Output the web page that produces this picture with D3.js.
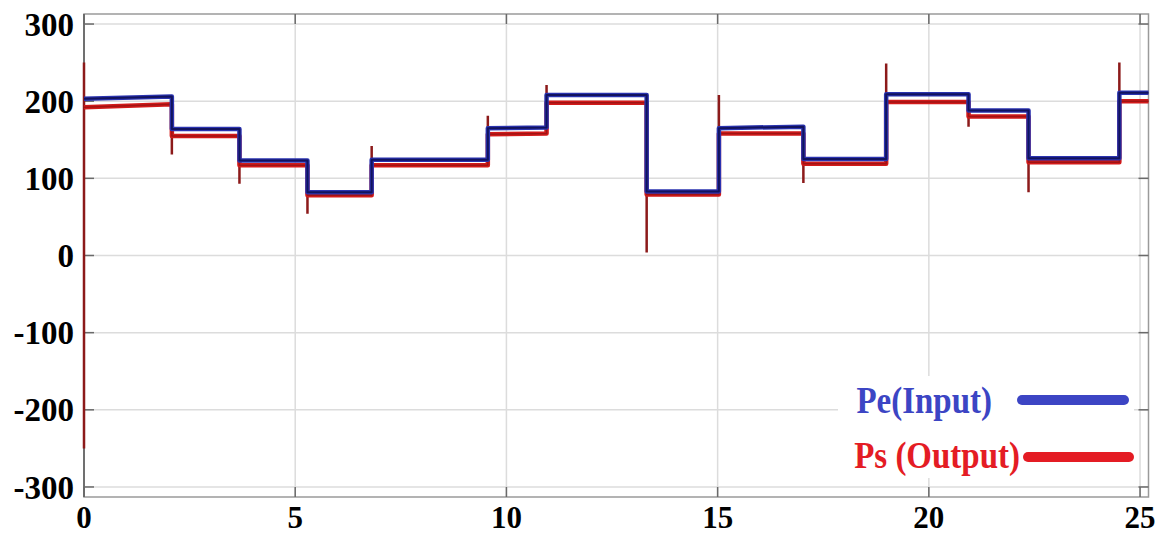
<!DOCTYPE html>
<html>
<head>
<meta charset="utf-8">
<script src="https://cdn.jsdelivr.net/npm/d3@7"></script>
<style>
  html, body { margin: 0; padding: 0; background: #fff; }
  svg { display: block; }
  text { font-family: "Liberation Serif", "Times New Roman", serif; font-weight: bold; }
</style>
</head>
<body>
<svg id="chart" width="1156" height="536"></svg>
<script>
// Step start times (s) of each power level
const stepTimes = [0, 2.08, 3.68, 5.29, 6.81, 9.56, 10.95, 13.32, 15.03, 17.03, 18.99, 20.94, 22.36, 24.51];
const endTime = 25.2;

// Input power Pe: level at start and end of each step
const peBegin = [203, 164, 123, 82, 124, 165, 208, 83, 165, 125, 209, 188, 126, 211];
const peEnd   = [206, 164, 123, 82, 124, 166, 208, 83, 167, 125, 209, 188, 126, 211];

// Output power Ps: level at start and end of each step
const psBegin = [192, 155, 117, 78, 117, 157, 198, 79, 158, 119, 199, 180, 121, 200];
const psEnd   = [196, 155, 117, 78, 117, 158, 198, 79, 158, 119, 199, 180, 121, 200];
// Transient overshoot of Ps at each step change (first one swings between both values)
const psSpike = [250, 131, 93, 54, 142, 181, 221, 4, 208, 94, 249, 167, 82, 250];
const psStartLow = -250;

const xTicks = [0, 5, 10, 15, 20, 25];
const yTicks = [-300, -200, -100, 0, 100, 200, 300];

const legendLabels = ["Pe(Input)", "Ps (Output)"];

const svg = d3.select("#chart");
const box = { left: 84, right: 1148.5, top: 14, bottom: 497 };

const x = d3.scaleLinear().domain([0, endTime]).range([box.left, box.right]);
const y = d3.scaleLinear().domain([-313, 313]).range([box.bottom, box.top]);

// Grid
const grid = svg.append("g");
grid.selectAll("line.gx").data(xTicks.filter(d => d > 0)).join("line")
  .attr("x1", d => x(d)).attr("x2", d => x(d))
  .attr("y1", box.top).attr("y2", box.bottom)
  .attr("stroke", "#dcdcdc").attr("stroke-width", 1.5);
grid.selectAll("line.gy").data(yTicks).join("line")
  .attr("x1", box.left).attr("x2", box.right)
  .attr("y1", d => y(d)).attr("y2", d => y(d))
  .attr("stroke", "#dcdcdc").attr("stroke-width", 1.5);

// Frame
svg.append("rect")
  .attr("x", box.left).attr("y", box.top)
  .attr("width", box.right - box.left).attr("height", box.bottom - box.top)
  .attr("fill", "none").attr("stroke", "#9a9a9a").attr("stroke-width", 1.5);
svg.append("line")
  .attr("x1", box.left).attr("x2", box.left).attr("y1", box.top).attr("y2", box.bottom)
  .attr("stroke", "#707070").attr("stroke-width", 2);

// Inward ticks on all four sides
const tickLen = 10;
const tg = svg.append("g").attr("stroke", "#6a6a6a").attr("stroke-width", 1.5);
tg.selectAll("line.tl").data(yTicks).join("line")
  .attr("x1", box.left).attr("x2", box.left + tickLen).attr("y1", d => y(d)).attr("y2", d => y(d));
tg.selectAll("line.tr").data(yTicks).join("line")
  .attr("x1", box.right).attr("x2", box.right - tickLen).attr("y1", d => y(d)).attr("y2", d => y(d));
tg.selectAll("line.tb").data(xTicks).join("line")
  .attr("x1", d => x(d)).attr("x2", d => x(d)).attr("y1", box.bottom).attr("y2", box.bottom - tickLen);
tg.selectAll("line.tt").data(xTicks).join("line")
  .attr("x1", d => x(d)).attr("x2", d => x(d)).attr("y1", box.top).attr("y2", box.top + tickLen);

// Tick labels
svg.selectAll("text.yl").data(yTicks).join("text")
  .attr("x", 74).attr("y", d => y(d))
  .attr("dy", "0.35em").attr("text-anchor", "end")
  .attr("font-size", 33).attr("fill", "#000")
  .text(d => d);
svg.selectAll("text.xl").data(xTicks).join("text")
  .attr("x", d => x(d)).attr("y", 528)
  .attr("text-anchor", "middle")
  .attr("font-size", 31).attr("fill", "#000")
  .text(d => d);

// Build step paths
const n = stepTimes.length;
const tEnd = i => (i + 1 < n ? stepTimes[i + 1] : endTime);

const pePts = [];
for (let i = 0; i < n; i++) {
  pePts.push([stepTimes[i], peBegin[i]]);
  pePts.push([tEnd(i), peEnd[i]]);
}

const psPts = [];
const spikeSegs = [];
for (let i = 0; i < n; i++) {
  const prev = i === 0 ? psStartLow : psEnd[i - 1];
  spikeSegs.push([[stepTimes[i], prev], [stepTimes[i], psSpike[i]], [stepTimes[i], psBegin[i]]]);
  psPts.push([stepTimes[i], psBegin[i]]);
  psPts.push([tEnd(i), psEnd[i]]);
}

const line = d3.line().x(d => x(d[0])).y(d => y(d[1]));

const plot = svg.append("g");
// Ps transients
plot.selectAll("path.spike").data(spikeSegs).join("path")
  .attr("d", line).attr("fill", "none")
  .attr("stroke", "#8c1a1a").attr("stroke-width", 2.5);
// Ps
plot.append("path").datum(psPts).attr("d", line).attr("fill", "none")
  .attr("stroke", "#d21a1a").attr("stroke-width", 4.5).attr("stroke-linejoin", "round");
plot.append("path").datum(psPts).attr("d", line).attr("fill", "none")
  .attr("stroke", "#a01414").attr("stroke-width", 1.5).attr("stroke-linejoin", "round");
// Pe
plot.append("path").datum(pePts).attr("d", line).attr("fill", "none")
  .attr("stroke", "#2a33b0").attr("stroke-width", 4.5).attr("stroke-linejoin", "round");
plot.append("path").datum(pePts).attr("d", line).attr("fill", "none")
  .attr("stroke", "#12135e").attr("stroke-width", 2).attr("stroke-linejoin", "round");

// Legend
const lg = svg.append("g");
lg.append("rect").attr("x", 838).attr("y", 376).attr("width", 296).attr("height", 102).attr("fill", "#fff");
const legendColors = ["#3c45c4", "#e41c24"];
const legendText = [{ x: 992, y: 413 }, { x: 1020, y: 468 }];
const legendLine = [{ x1: 1022, x2: 1124, y: 400 }, { x1: 1028, x2: 1129, y: 457 }];
legendLabels.forEach((label, i) => {
  lg.append("text")
    .attr("transform", `translate(${legendText[i].x},${legendText[i].y}) scale(1,1.12)`)
    .attr("text-anchor", "end")
    .attr("font-size", 33).attr("fill", legendColors[i])
    .text(label);
  lg.append("line")
    .attr("x1", legendLine[i].x1).attr("x2", legendLine[i].x2)
    .attr("y1", legendLine[i].y).attr("y2", legendLine[i].y)
    .attr("stroke", legendColors[i]).attr("stroke-width", 10).attr("stroke-linecap", "round");
});
</script>
</body>
</html>
